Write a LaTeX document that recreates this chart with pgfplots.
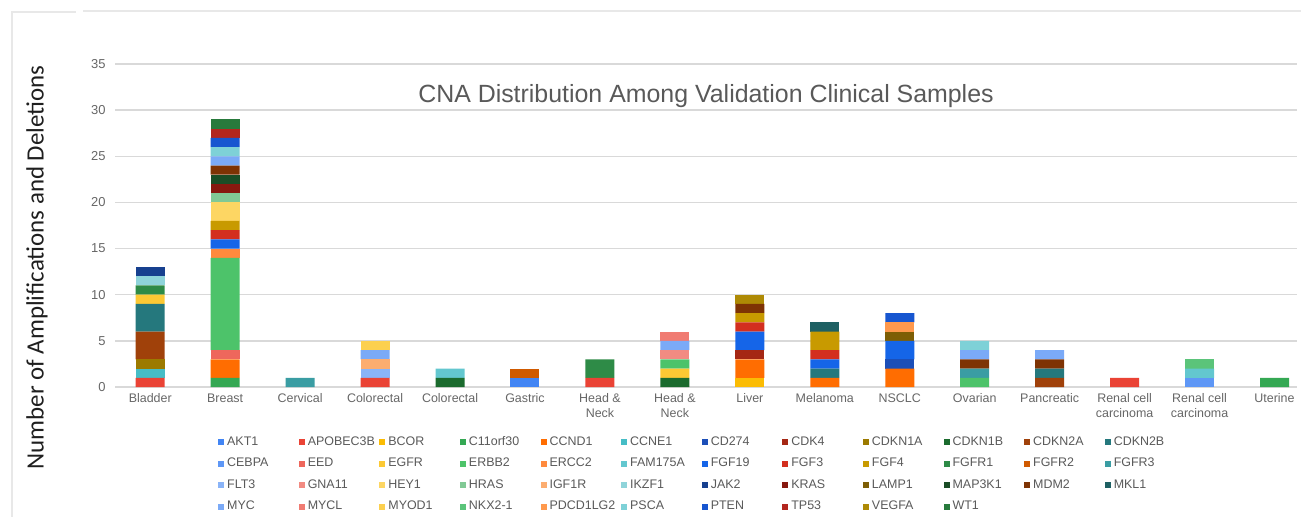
\documentclass[border=0pt]{standalone}
\usepackage{pgfplots}
\usepackage{pgfplotstable}
\pgfplotsset{compat=1.18}
\usepackage{fontspec}
\setmainfont{Liberation Sans}
\newfontfamily\calibri{Carlito}

\definecolor{c01}{HTML}{4285F4}\definecolor{c02}{HTML}{EA4335}\definecolor{c03}{HTML}{FBBC04}\definecolor{c04}{HTML}{34A853}
\definecolor{c05}{HTML}{FF6D01}\definecolor{c06}{HTML}{46BDC6}\definecolor{c07}{HTML}{1C4FB8}\definecolor{c08}{HTML}{A52714}
\definecolor{c09}{HTML}{9C7A00}\definecolor{c10}{HTML}{1B6B2E}\definecolor{c11}{HTML}{A0410A}\definecolor{c12}{HTML}{25787D}
\definecolor{c13}{HTML}{5E97F6}\definecolor{c14}{HTML}{EE675C}\definecolor{c15}{HTML}{FCC934}\definecolor{c16}{HTML}{4DC36A}
\definecolor{c17}{HTML}{FF8A3D}\definecolor{c18}{HTML}{63C7CF}\definecolor{c19}{HTML}{1565E8}\definecolor{c20}{HTML}{D32F1F}
\definecolor{c21}{HTML}{C89A00}\definecolor{c22}{HTML}{2E8B47}\definecolor{c23}{HTML}{D05A00}\definecolor{c24}{HTML}{3A9DA3}
\definecolor{c25}{HTML}{8AB4F8}\definecolor{c26}{HTML}{F28B82}\definecolor{c27}{HTML}{FDD663}\definecolor{c28}{HTML}{81C995}
\definecolor{c29}{HTML}{FCAD70}\definecolor{c30}{HTML}{8FD4DA}\definecolor{c31}{HTML}{17408F}\definecolor{c32}{HTML}{87180F}
\definecolor{c33}{HTML}{7D5E05}\definecolor{c34}{HTML}{1A4D26}\definecolor{c35}{HTML}{7E3304}\definecolor{c36}{HTML}{1E6063}
\definecolor{c37}{HTML}{7BAAF7}\definecolor{c38}{HTML}{F07B72}\definecolor{c39}{HTML}{FCD04F}\definecolor{c40}{HTML}{5BC47A}
\definecolor{c41}{HTML}{FF994D}\definecolor{c42}{HTML}{7ED1D7}\definecolor{c43}{HTML}{1756D0}\definecolor{c44}{HTML}{B3261E}
\definecolor{c45}{HTML}{AE8A05}\definecolor{c46}{HTML}{287A3C}
\definecolor{tickgray}{HTML}{666666}
\definecolor{titlegray}{HTML}{595959}

% rows = genes, columns = categories (Bladder ... Uterine)
\pgfplotstableread{
gene     Bla Bre Cer CoA CoB Gas HNA HNB Liv Mel NSC Ova Pan ReA ReB Ute
AKT1      0   0   0   0   0   1   0   0   0   0   0   0   0   0   0   0
APOBEC3B  1   0   0   1   0   0   1   0   0   0   0   0   0   1   0   0
BCOR      0   0   0   0   0   0   0   0   1   0   0   0   0   0   0   0
C11orf30  0   1   0   0   0   0   0   0   0   0   0   0   0   0   0   1
CCND1     0   2   0   0   0   0   0   0   2   1   2   0   0   0   0   0
CCNE1     1   0   0   0   0   0   0   0   0   0   0   0   0   0   0   0
CD274     0   0   0   0   0   0   0   0   0   0   1   0   0   0   0   0
CDK4      0   0   0   0   0   0   0   0   1   0   0   0   0   0   0   0
CDKN1A    1   0   0   0   0   0   0   0   0   0   0   0   0   0   0   0
CDKN1B    0   0   0   0   1   0   0   1   0   0   0   0   0   0   0   0
CDKN2A    3   0   0   0   0   0   0   0   0   0   0   0   1   0   0   0
CDKN2B    3   0   0   0   0   0   0   0   0   1   0   0   1   0   0   0
CEBPA     0   0   0   0   0   0   0   0   0   0   0   0   0   0   1   0
EED       0   1   0   0   0   0   0   0   0   0   0   0   0   0   0   0
EGFR      1   0   0   0   0   0   0   1   0   0   0   0   0   0   0   0
ERBB2     0  10   0   0   0   0   0   1   0   0   0   1   0   0   0   0
ERCC2     0   1   0   0   0   0   0   0   0   0   0   0   0   0   0   0
FAM175A   0   0   0   0   1   0   0   0   0   0   0   0   0   0   1   0
FGF19     0   1   0   0   0   0   0   0   2   1   2   0   0   0   0   0
FGF3      0   1   0   0   0   0   0   0   1   1   0   0   0   0   0   0
FGF4      0   1   0   0   0   0   0   0   1   2   0   0   0   0   0   0
FGFR1     1   0   0   0   0   0   2   0   0   0   0   0   0   0   0   0
FGFR2     0   0   0   0   0   1   0   0   0   0   0   0   0   0   0   0
FGFR3     0   0   1   0   0   0   0   0   0   0   0   1   0   0   0   0
FLT3      0   0   0   1   0   0   0   0   0   0   0   0   0   0   0   0
GNA11     0   0   0   0   0   0   0   1   0   0   0   0   0   0   0   0
HEY1      0   2   0   0   0   0   0   0   0   0   0   0   0   0   0   0
HRAS      0   1   0   0   0   0   0   0   0   0   0   0   0   0   0   0
IGF1R     0   0   0   1   0   0   0   0   0   0   0   0   0   0   0   0
IKZF1     1   0   0   0   0   0   0   0   0   0   0   0   0   0   0   0
JAK2      1   0   0   0   0   0   0   0   0   0   0   0   0   0   0   0
KRAS      0   1   0   0   0   0   0   0   0   0   0   0   0   0   0   0
LAMP1     0   0   0   0   0   0   0   0   0   0   1   0   0   0   0   0
MAP3K1    0   1   0   0   0   0   0   0   0   0   0   0   0   0   0   0
MDM2      0   1   0   0   0   0   0   0   1   0   0   1   1   0   0   0
MKL1      0   0   0   0   0   0   0   0   0   1   0   0   0   0   0   0
MYC       0   1   0   1   0   0   0   1   0   0   0   1   1   0   0   0
MYCL      0   0   0   0   0   0   0   1   0   0   0   0   0   0   0   0
MYOD1     0   0   0   1   0   0   0   0   0   0   0   0   0   0   0   0
NKX2-1    0   0   0   0   0   0   0   0   0   0   0   0   0   0   1   0
PDCD1LG2  0   0   0   0   0   0   0   0   0   0   1   0   0   0   0   0
PSCA      0   1   0   0   0   0   0   0   0   0   0   1   0   0   0   0
PTEN      0   1   0   0   0   0   0   0   0   0   1   0   0   0   0   0
TP53      0   1   0   0   0   0   0   0   0   0   0   0   0   0   0   0
VEGFA     0   0   0   0   0   0   0   0   1   0   0   0   0   0   0   0
WT1       0   1   0   0   0   0   0   0   0   0   0   0   0   0   0   0
}\raw
\pgfplotstabletranspose[colnames from=gene]\data\raw

\newcommand\gene[2]{%
  \addplot[fill=#2] table[x expr=\coordindex, y=#1]{\data};
  \addlegendentry{\makebox[70.6bp][l]{#1}}}

\begin{document}
\begin{tikzpicture}
\path[use as bounding box] (0,0) rectangle (1301bp,517bp);
\draw[gray!18, line width=1.2bp] (12bp,0) -- (12bp,505bp) -- (76bp,505bp);
\draw[gray!18, line width=1.2bp] (83bp,506bp) -- (1301bp,506bp);
\begin{axis}[
  at={(115bp,130bp)}, anchor=south west,
  scale only axis, width=1182bp, height=323bp,
  clip=false,
  ybar stacked, bar width=29bp,
  xmin=-0.47, xmax=15.3, ymin=0, ymax=35,
  ytick={0,5,...,35},
  xtick={0,...,15},
  xticklabels={Bladder,Breast,Cervical,Colorectal,Colorectal,Gastric,{Head \&\\Neck},{Head \&\\Neck},Liver,Melanoma,NSCLC,Ovarian,Pancreatic,{Renal cell\\carcinoma},{Renal cell\\carcinoma},Uterine},
  xticklabel style={align=center, font=\fontsize{12.5}{15}\selectfont, text=tickgray, yshift=-3bp},
  yticklabel style={font=\fontsize{13}{15}\selectfont, text=tickgray, xshift=-6bp},
  /pgf/number format/assume math mode=true,
  axis line style={draw=none},
  major tick length=0pt,
  ymajorgrids, grid style={color=black!15, line width=1.3bp},
  every axis plot/.append style={draw=none},
  legend columns=12,
  legend cell align=left,
  legend image code/.code={\path[#1,draw=none] (0bp,-3bp) rectangle (6bp,3bp);},
  legend style={draw=none, fill=none, at={(0.0846,-0.142)}, anchor=north west,
    font=\fontsize{12.5}{15}\selectfont, text=titlegray,
    nodes={inner sep=1bp, text height=9bp, text depth=3bp},
    /tikz/every odd column/.append style={column sep=2bp},
    row sep=7.6bp},
]
\gene{AKT1}{c01}\gene{APOBEC3B}{c02}\gene{BCOR}{c03}\gene{C11orf30}{c04}
\gene{CCND1}{c05}\gene{CCNE1}{c06}\gene{CD274}{c07}\gene{CDK4}{c08}
\gene{CDKN1A}{c09}\gene{CDKN1B}{c10}\gene{CDKN2A}{c11}\gene{CDKN2B}{c12}
\gene{CEBPA}{c13}\gene{EED}{c14}\gene{EGFR}{c15}\gene{ERBB2}{c16}
\gene{ERCC2}{c17}\gene{FAM175A}{c18}\gene{FGF19}{c19}\gene{FGF3}{c20}
\gene{FGF4}{c21}\gene{FGFR1}{c22}\gene{FGFR2}{c23}\gene{FGFR3}{c24}
\gene{FLT3}{c25}\gene{GNA11}{c26}\gene{HEY1}{c27}\gene{HRAS}{c28}
\gene{IGF1R}{c29}\gene{IKZF1}{c30}\gene{JAK2}{c31}\gene{KRAS}{c32}
\gene{LAMP1}{c33}\gene{MAP3K1}{c34}\gene{MDM2}{c35}\gene{MKL1}{c36}
\gene{MYC}{c37}\gene{MYCL}{c38}\gene{MYOD1}{c39}\gene{NKX2-1}{c40}
\gene{PDCD1LG2}{c41}\gene{PSCA}{c42}\gene{PTEN}{c43}\gene{TP53}{c44}
\gene{VEGFA}{c45}\gene{WT1}{c46}
\node[font=\fontsize{25}{28}\selectfont, text=titlegray] at (axis description cs:0.5,0.902) {CNA Distribution Among Validation Clinical Samples};
\node[font=\calibri\fontsize{25}{28}\selectfont, text=black!88, rotate=90] at (axis description cs:-0.066,0.37) {Number of Amplifications and Deletions};
\end{axis}
\end{tikzpicture}
\end{document}
